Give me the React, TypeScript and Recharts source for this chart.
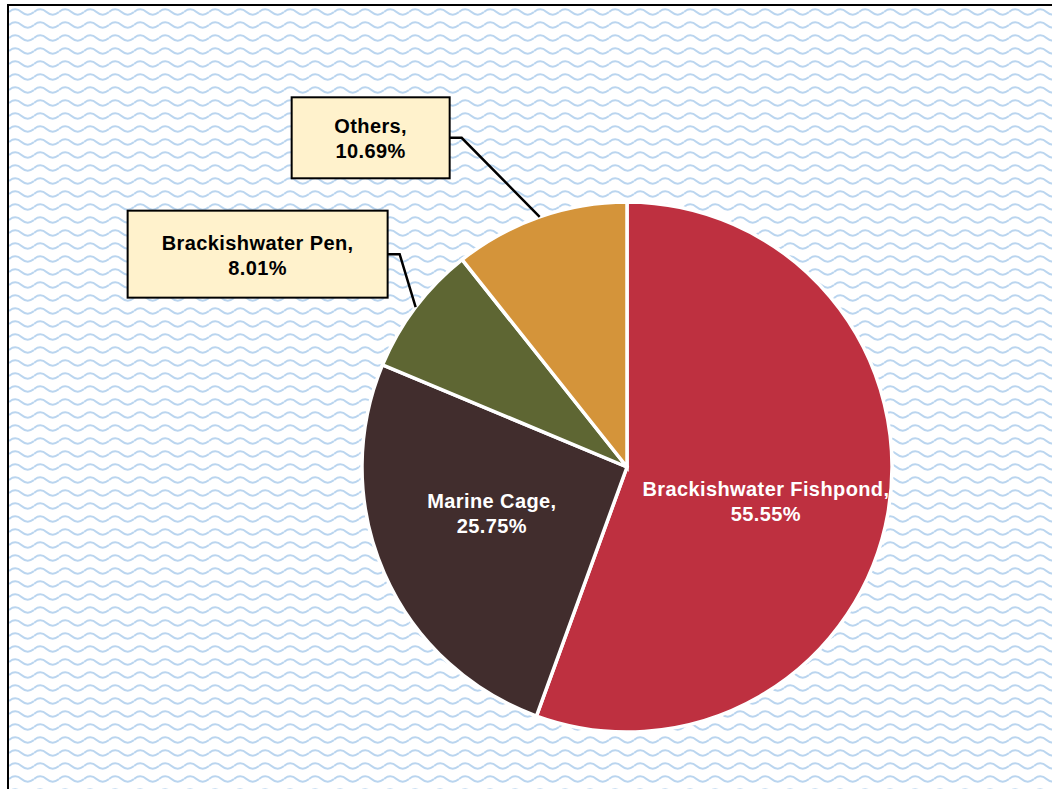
import { Cell, Pie, PieChart } from 'recharts';

const categories = ['Brackishwater Fishpond', 'Marine Cage', 'Brackishwater Pen', 'Others'];
const shares = [55.55, 25.75, 8.01, 10.69];
const shareLabels = ['55.55%', '25.75%', '8.01%', '10.69%'];
const sliceColors = ['#BE3040', '#412D2D', '#5E6633', '#D4943A'];

const data = categories.map((name, i) => ({ name, value: shares[i], text: shareLabels[i] }));

// label placement, per slice (inside text or a boxed callout)
const labelLayout = [
	{ kind: 'inside', dx: -2, dy: 10 },
	{ kind: 'inside', dx: -4, dy: -11 },
	{ kind: 'callout', dx: -158, dy: -53, w: 260, h: 87 },
	{ kind: 'callout', dx: -169, dy: -79, w: 158, h: 81 },
];

const RADIAN = Math.PI / 180;
const FONT = '"Liberation Sans", Arial, sans-serif';
const FONT_SIZE = 20;
const SPACING = 0.4;

const wave =
	"<svg xmlns='http://www.w3.org/2000/svg' width='25' height='13'><path d='M0,6 C4,2.5 8.5,2.5 12.5,6 S21,9.5 25,6' fill='none' stroke='#BAD5EF' stroke-width='2.1'/></svg>";
const waveUrl = `url("data:image/svg+xml,${encodeURIComponent(wave)}")`;

const renderLabel = (props: any) => {
	const { cx, cy, midAngle, outerRadius, index, payload } = props;
	const layout = labelLayout[index];
	const cos = Math.cos(-midAngle * RADIAN);
	const sin = Math.sin(-midAngle * RADIAN);
	const lines = [`${payload.name},`, payload.text];

	if (layout.kind === 'inside') {
		const r = outerRadius * 0.54;
		const x = cx + r * cos + layout.dx;
		const y = cy + r * sin + layout.dy;
		return (
			<text
				x={x}
				y={y}
				textAnchor='middle'
				fill='#FFFFFF'
				fontFamily={FONT}
				fontWeight='bold'
				fontSize={FONT_SIZE}
				letterSpacing={SPACING}
			>
				<tspan x={x} y={y - 5.5}>{lines[0]}</tspan>
				<tspan x={x} y={y + 19.5}>{lines[1]}</tspan>
			</text>
		);
	}

	const ex = cx + outerRadius * cos;
	const ey = cy + outerRadius * sin;
	const bx = ex + layout.dx;
	const by = ey + layout.dy;
	const right = bx + (layout.w as number) / 2;
	return (
		<g>
			<polyline
				points={`${right},${by} ${right + 12},${by} ${ex},${ey}`}
				fill='none'
				stroke='#000000'
				strokeWidth={2.5}
			/>
			<rect
				x={bx - (layout.w as number) / 2}
				y={by - (layout.h as number) / 2}
				width={layout.w}
				height={layout.h}
				fill='#FFF2CC'
				stroke='#000000'
				strokeWidth={2}
			/>
			<text
				x={bx}
				y={by}
				textAnchor='middle'
				fill='#000000'
				fontFamily={FONT}
				fontWeight='bold'
				fontSize={FONT_SIZE}
				letterSpacing={SPACING}
			>
				<tspan x={bx} y={by - 4.5}>{lines[0]}</tspan>
				<tspan x={bx} y={by + 20.5}>{lines[1]}</tspan>
			</text>
		</g>
	);
};

const App = () => {
	return (
		<div style={{ position: 'absolute', left: 0, top: 0, width: 1052, height: 789, background: '#FFFFFF', overflow: 'hidden' }}>
			<div
				style={{
					position: 'absolute',
					left: 7,
					top: 4,
					width: 1100,
					height: 850,
					borderTop: '2px solid #000000',
					borderLeft: '2px solid #000000',
					backgroundImage: waveUrl,
					backgroundRepeat: 'repeat',
				}}
			/>
			<div style={{ position: 'absolute', left: 0, top: 0 }}>
				<PieChart width={1052} height={789} margin={{ top: 0, right: 0, bottom: 0, left: 0 }}>
					<Pie
						data={data}
						dataKey='value'
						nameKey='name'
						cx={627}
						cy={467}
						outerRadius={265}
						startAngle={90}
						endAngle={-270}
						stroke='#FFFFFF'
						strokeWidth={3.5}
						label={renderLabel}
						labelLine={false}
						isAnimationActive={false}
					>
						{data.map((d, i) => (
							<Cell key={d.name} fill={sliceColors[i]} />
						))}
					</Pie>
				</PieChart>
			</div>
		</div>
	);
};

export default App;
